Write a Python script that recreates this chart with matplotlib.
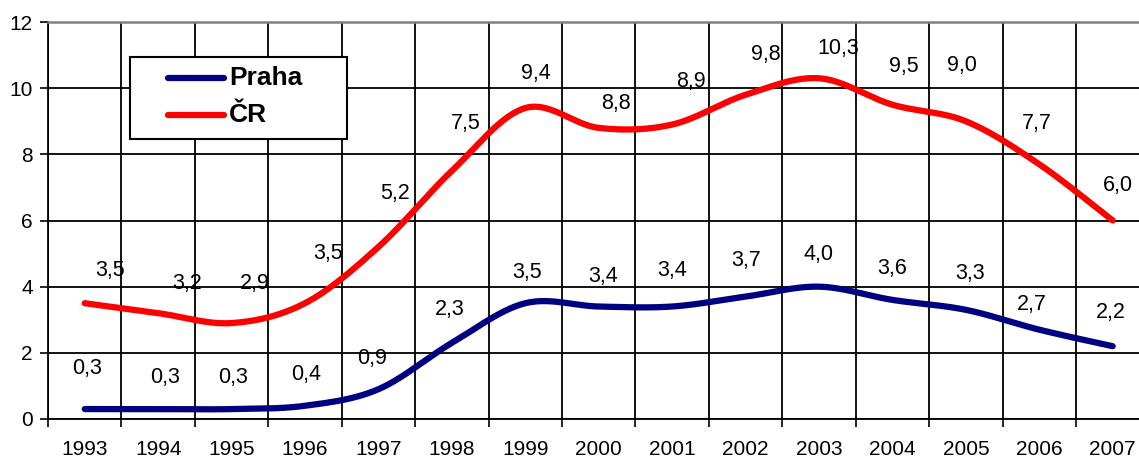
import numpy as np
import matplotlib
matplotlib.use('Agg')
import matplotlib.pyplot as plt
from matplotlib.patches import Rectangle

plt.rcParams['font.family'] = ['Liberation Sans', 'DejaVu Sans']

# data
years = ['1993', '1994', '1995', '1996', '1997', '1998', '1999', '2000',
         '2001', '2002', '2003', '2004', '2005', '2006', '2007']
praha = [0.3, 0.3, 0.3, 0.4, 0.9, 2.3, 3.5, 3.4, 3.4, 3.7, 4.0, 3.6, 3.3, 2.7, 2.2]
cr = [3.5, 3.2, 2.9, 3.5, 5.2, 7.5, 9.4, 8.8, 8.9, 9.8, 10.3, 9.5, 9.0, 7.7, 6.0]

# label placement (x shift, y position) - hand placed like the original
praha_lbl = [(0.03, 1.54), (0.1, 1.24), (0.02, 1.24), (0.01, 1.36), (-0.09, 1.84),
             (-0.03, 3.3), (0.02, 4.44), (0.06, 4.3), (0.0, 4.5), (0.01, 4.8),
             (0.0, 4.96), (-0.01, 4.56), (0.06, 4.41), (-0.1, 3.45), (-0.02, 3.23)]
cr_lbl = [(0.34, 4.5), (0.39, 4.11), (0.32, 4.11), (0.31, 5.0), (0.22, 6.83),
          (0.19, 8.94), (0.15, 10.45), (0.23, 9.55), (0.26, 10.2), (0.28, 11.03),
          (0.26, 11.2), (0.16, 10.65), (-0.05, 10.7), (-0.04, 8.94), (0.07, 7.07)]


def smooth(y, n=30):
    # excel-like smoothed line (bezier through points, catmull-rom tangents)
    x = np.arange(len(y), dtype=float)
    y = np.asarray(y, dtype=float)
    pts = np.column_stack([x, y])
    out = []
    for i in range(len(pts) - 1):
        p0 = pts[max(i - 1, 0)]
        p1 = pts[i]
        p2 = pts[i + 1]
        p3 = pts[min(i + 2, len(pts) - 1)]
        c1 = p1 + (p2 - p0) / 6
        c2 = p2 - (p3 - p1) / 6
        t = np.linspace(0, 1, n)[:, None]
        seg = ((1 - t) ** 3) * p1 + 3 * ((1 - t) ** 2) * t * c1 + 3 * (1 - t) * t ** 2 * c2 + t ** 3 * p2
        out.append(seg if i == 0 else seg[1:])
    seg = np.vstack(out)
    return seg[:, 0], seg[:, 1]


fig = plt.figure(figsize=(11.39, 4.58), dpi=100)
ax = fig.add_axes([48 / 1139, 39 / 458, 1101.4 / 1139, 397 / 458])

xs, ys = smooth(cr)
ax.plot(xs, ys, color='#ff0000', lw=4.5, solid_capstyle='round', zorder=3)
xs, ys = smooth(praha)
ax.plot(xs, ys, color='#000080', lw=4.5, solid_capstyle='round', zorder=3)

fmt = lambda v: f'{v:.1f}'.replace('.', ',')
for i, v in enumerate(praha):
    ax.text(i + praha_lbl[i][0], praha_lbl[i][1], fmt(v), ha='center', va='center',
            fontsize=15.5, zorder=4)
for i, v in enumerate(cr):
    ax.text(i + cr_lbl[i][0], cr_lbl[i][1], fmt(v), ha='center', va='center',
            fontsize=15.5, zorder=4)

ax.set_xlim(-0.5, 14.5)
ax.set_ylim(0, 12)
ax.set_yticks(range(0, 13, 2))
ax.set_xticks(range(len(years)))
ax.set_xticklabels(years)
ax.set_xticks(np.arange(-0.5, 15, 1), minor=True)
ax.tick_params(axis='x', which='major', length=0, pad=15, labelsize=15)
ax.tick_params(axis='x', which='minor', length=6, width=1.2, color='black', direction='out')
ax.tick_params(axis='y', length=6, width=1.2, pad=5, labelsize=15, direction='out')
ax.grid(True, axis='x', which='minor', color='black', lw=1.3)
ax.grid(True, axis='y', which='major', color='black', lw=1.3)
ax.set_axisbelow(True)
ax.spines['top'].set_color('#808080')
ax.spines['top'].set_linewidth(1.8)
ax.spines['right'].set_visible(False)
for s in ['left', 'bottom']:
    ax.spines[s].set_linewidth(1.3)

# legend box like the excel one
tr = ax.transAxes
def ax_pt(px, py):
    return ((px - 48) / 1101.4, (419 - py) / 397)

bx0, by0 = ax_pt(130, 139)
bx1, by1 = ax_pt(347, 57)
ax.add_patch(Rectangle((bx0, by0), bx1 - bx0, by1 - by0, transform=tr,
                       facecolor='white', edgecolor='black', lw=1.5, zorder=5))
for name, col, py in [('Praha', '#000080', 78), ('ČR', '#ff0000', 115)]:
    x0, yy = ax_pt(168, py)
    x1, _ = ax_pt(224, py)
    ax.plot([x0, x1], [yy, yy], transform=tr, color=col, lw=4.5,
            solid_capstyle='round', zorder=6)
    tx, _ = ax_pt(229, py)
    ax.text(tx, yy, name, transform=tr, fontsize=19, fontweight='bold',
            va='center', ha='left', zorder=6)

fig.savefig('out.png', dpi=100)
